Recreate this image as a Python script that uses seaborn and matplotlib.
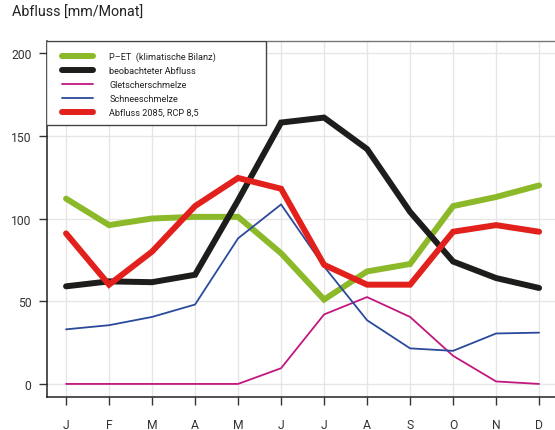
import pandas as pd
import seaborn as sns
import matplotlib.pyplot as plt
from matplotlib.patches import Rectangle

# data (mm per month)
months = ["J", "F", "M", "A", "M", "J", "J", "A", "S", "O", "N", "D"]
p_et = [112, 96, 100, 101, 101, 79, 51, 68, 72.5, 107.5, 113, 120]
observed = [59, 62, 61.5, 66, 111, 158, 161, 142, 104, 74, 64, 58]
glacier = [0, 0, 0, 0, 0, 9.5, 42, 52.5, 40.5, 17, 1.5, 0]
snow = [33, 35.5, 40.5, 48, 88, 108.5, 71, 38.5, 21.5, 20, 30.5, 31]
runoff_2085 = [91, 60, 80, 107.5, 124.5, 118, 72, 60, 60, 92, 96, 92]

series = [
    ("P\u2013ET  (klimatische Bilanz)", p_et, "#8cb92a", 4.3),
    ("beobachteter Abfluss", observed, "#1d1d1b", 4.3),
    ("Gletscherschmelze", glacier, "#c2177f", 1.3),
    ("Schneeschmelze", snow, "#2b4a9b", 1.3),
    ("Abfluss 2085, RCP 8,5", runoff_2085, "#e2201c", 4.3),
]

sns.set_style("white")
plt.rcParams["font.family"] = ["Roboto", "DejaVu Sans"]

fig = plt.figure(figsize=(5.55, 4.31), dpi=100)
ax = fig.add_axes([46.7 / 555, 33 / 431, 1 - 46.7 / 555, 356 / 431])

x = list(range(len(months)))
for name, vals, col, lw in series:
    sns.lineplot(x=x, y=vals, ax=ax, color=col, linewidth=lw, label=name,
                 zorder=3, solid_joinstyle="miter")

ax.set_xlim(-0.45, 11.37)
ax.set_ylim(-7.9, 207.3)
ax.set_xticks(x)
ax.set_xticklabels(months)
ax.set_yticks([0, 50, 100, 150, 200])
ax.grid(True, color="#e6e6e6", linewidth=1, zorder=0)
ax.set_axisbelow(True)

ax.tick_params(axis="both", direction="out", length=6, width=1, color="#333333",
               labelsize=8.7, labelcolor="#333333")
ax.tick_params(axis="x", pad=9)
ax.tick_params(axis="y", pad=5)
ax.tick_params(bottom=True, left=True)

for side in ["left", "bottom"]:
    ax.spines[side].set_color("#222222")
    ax.spines[side].set_linewidth(1.1)
ax.spines["top"].set_color("#777777")
ax.spines["top"].set_linewidth(1)
ax.spines["right"].set_visible(False)

# legend box
box = Rectangle((46 / 555, (431 - 126) / 431), 220 / 555, 84 / 431,
                transform=fig.transFigure, facecolor="white", edgecolor="#444444",
                linewidth=1, zorder=4)
ax.add_patch(box)
leg = ax.legend(loc="upper left", bbox_to_anchor=(15.3 / 508.3, 1 - 10.5 / 356),
                frameon=False, fontsize=6.6, borderpad=0, borderaxespad=0,
                handlelength=3.4, handletextpad=1.75, labelspacing=0.54)
leg.set_zorder(5)
for t in leg.get_texts():
    t.set_color("#222222")

fig.text(12 / 555, 1 - 13 / 431, "Abfluss [mm/Monat]", fontsize=10.3,
         color="#222222", va="center", ha="left")

fig.savefig("out.png", dpi=100)
